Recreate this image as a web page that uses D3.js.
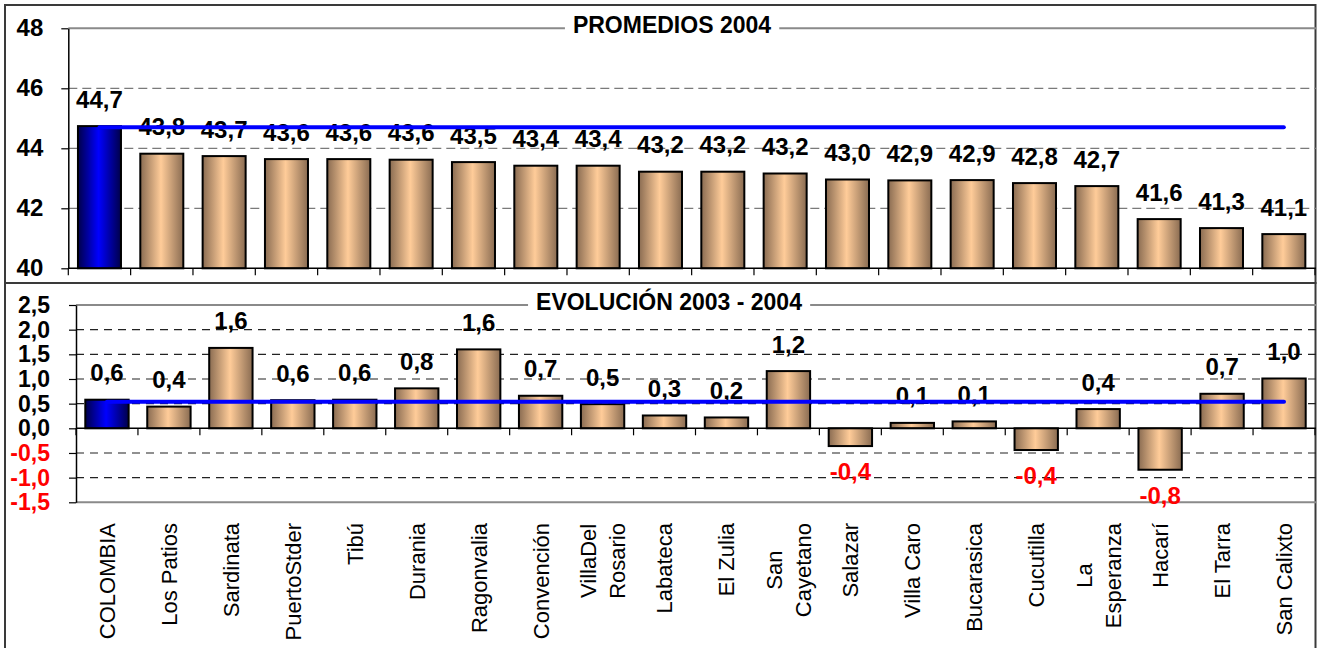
<!DOCTYPE html>
<html>
<head>
<meta charset="utf-8">
<script src="https://cdn.jsdelivr.net/npm/d3@7"></script>
<style>
  body { margin: 0; background: #fff; }
  text { font-family: "Liberation Sans", Arial, sans-serif; }
</style>
</head>
<body>
<div id="chart"></div>
<script>
// data
var categories = ["COLOMBIA", "Los Patios", "Sardinata", "PuertoStder", "Tibú", "Durania",
  "Ragonvalia", "Convención", "VillaDel\nRosario", "Labateca", "El Zulia", "San\nCayetano",
  "Salazar", "Villa Caro", "Bucarasica", "Cucutilla", "La\nEsperanza", "Hacarí", "El Tarra", "San Calixto"];

var promedios2004 = [44.74, 43.82, 43.74, 43.64, 43.64, 43.62, 43.54, 43.42, 43.42, 43.22,
  43.22, 43.16, 42.96, 42.93, 42.94, 42.84, 42.74, 41.64, 41.34, 41.14];

var evolucion = [0.58, 0.44, 1.63, 0.57, 0.58, 0.81, 1.60, 0.66, 0.49, 0.26,
  0.22, 1.16, -0.36, 0.11, 0.14, -0.44, 0.39, -0.84, 0.70, 1.01];

var promedioLine = 44.7;
var evolucionLine = 0.54;

var promTicks = [40, 42, 44, 46, 48];
var evolTicks = [-1.5, -1, -0.5, 0, 0.5, 1, 1.5, 2, 2.5];

var titles = ["PROMEDIOS 2004", "EVOLUCIÓN 2003 - 2004"];

// setup
var W = 1322, H = 648;
var fmt = d3.formatLocale({decimal: ",", thousands: ".", grouping: [3], currency: ["", ""], minus: "-"}).format(".1f");
var fmtInt = d3.format("d");

var svg = d3.select("#chart").append("svg")
  .attr("width", W).attr("height", H)
  .style("display", "block");

var defs = svg.append("defs");
function grad(id, edge, mid) {
  var g = defs.append("linearGradient").attr("id", id)
    .attr("x1", "0%").attr("x2", "100%").attr("y1", "0%").attr("y2", "0%");
  g.append("stop").attr("offset", "0%").attr("stop-color", edge);
  g.append("stop").attr("offset", "48%").attr("stop-color", mid);
  g.append("stop").attr("offset", "100%").attr("stop-color", edge);
}
grad("tan", "#8a6c52", "#ffcc99");
grad("blu", "#00004a", "#0000ff");

// outer frames
svg.append("rect").attr("x", 5).attr("y", 5).attr("width", 1310.5).attr("height", 278)
  .attr("fill", "none").attr("stroke", "#3a3a3a").attr("stroke-width", 2);
svg.append("rect").attr("x", 5).attr("y", 283).attr("width", 1310.5).attr("height", 380)
  .attr("fill", "none").attr("stroke", "#3a3a3a").attr("stroke-width", 2);

function panel(o) {
  var x = d3.scaleBand().domain(categories).range([o.left, o.right])
    .paddingInner(o.pad).paddingOuter(o.pad / 2);
  var y = d3.scaleLinear().domain(o.domain).range([o.bottom, o.top]);
  var g = svg.append("g");
  var step = x.step();

  // gridlines
  o.ticks.forEach(function(t) {
    if (t === o.domain[0] || t === o.base) return;
    var solid = (t === o.domain[1]);
    g.append("line")
      .attr("x1", o.left).attr("x2", o.right + 1)
      .attr("y1", y(t)).attr("y2", y(t))
      .attr("stroke", solid ? "#8a8a8a" : o.dashColor)
      .attr("stroke-width", solid ? 2 : 1.2)
      .attr("stroke-dasharray", solid ? null : o.dash);
  });
  if (o.base !== o.domain[0]) {
    g.append("line")
      .attr("x1", o.left).attr("x2", o.right + 1)
      .attr("y1", y(o.domain[0])).attr("y2", y(o.domain[0]))
      .attr("stroke", "#8a8a8a").attr("stroke-width", 2);
  }

  // bars
  g.selectAll("rect.bar").data(o.values).enter().append("rect")
    .attr("class", "bar")
    .attr("x", function(d, i) { return x(categories[i]); })
    .attr("width", x.bandwidth())
    .attr("y", function(d) { return Math.min(y(d), y(o.base)); })
    .attr("height", function(d) { return Math.abs(y(d) - y(o.base)); })
    .attr("fill", function(d, i) { return i === 0 ? "url(#blu)" : "url(#tan)"; })
    .attr("stroke", "#000").attr("stroke-width", 2);

  // category axis (ticks on band borders)
  g.append("line")
    .attr("x1", o.left).attr("x2", o.right + 1)
    .attr("y1", y(o.base)).attr("y2", y(o.base))
    .attr("stroke", "#000").attr("stroke-width", 1.5);
  d3.range(categories.length + 1).forEach(function(i) {
    var xx = o.left + i * step;
    g.append("line").attr("x1", xx).attr("x2", xx)
      .attr("y1", y(o.base)).attr("y2", y(o.base) + 7)
      .attr("stroke", "#000").attr("stroke-width", 1.2);
  });

  // value axis
  var ax = g.append("g").attr("transform", "translate(" + o.left + ",0)")
    .call(d3.axisLeft(y).tickValues(o.ticks).tickSize(7).tickSizeOuter(0).tickPadding(o.tickPad)
      .tickFormat(o.intLabels ? fmtInt : fmt));
  ax.select(".domain").attr("stroke", "#000").attr("stroke-width", 1.5);
  ax.selectAll(".tick line").attr("stroke", "#000").attr("stroke-width", 1.2);
  ax.selectAll(".tick text")
    .attr("font-family", "'Liberation Sans', Arial, sans-serif")
    .attr("font-size", o.axisFont).attr("font-weight", "bold")
    .attr("fill", function(d) { return d < 0 ? "#ff0000" : "#000"; });

  // data labels
  g.selectAll("text.val").data(o.values).enter().append("text")
    .attr("class", "val")
    .attr("x", function(d, i) { return x(categories[i]) + x.bandwidth() / 2; })
    .attr("y", function(d) { return d >= o.base ? y(d) - 18.5 : y(d) + 34; })
    .attr("text-anchor", "middle")
    .attr("font-size", 24).attr("font-weight", "bold")
    .attr("fill", function(d) { return d < 0 ? "#ff0000" : "#000"; })
    .text(function(d) { return fmt(d); });

  // reference line
  g.append("line")
    .attr("x1", x(categories[0]) + x.bandwidth() / 2)
    .attr("x2", x(categories[categories.length - 1]) + x.bandwidth() / 2)
    .attr("y1", y(o.ref)).attr("y2", y(o.ref))
    .attr("stroke", "#0000ff").attr("stroke-width", 4).attr("stroke-linecap", "round");

  // title over the top border
  var tt = g.append("text")
    .attr("x", o.titleX).attr("y", y(o.domain[1]) + 5)
    .attr("text-anchor", "middle")
    .attr("font-size", 23).attr("font-weight", "bold")
    .text(o.title);
  var bb = tt.node().getBBox();
  g.insert("rect", function() { return tt.node(); })
    .attr("x", bb.x - 8).attr("y", bb.y).attr("width", bb.width + 16).attr("height", bb.height)
    .attr("fill", "#fff");

  return x;
}

panel({
  values: promedios2004, domain: [40, 48], ticks: promTicks, base: 40, ref: promedioLine,
  left: 68.3, right: 1315, top: 28.3, bottom: 268.3, pad: 0.31,
  dash: "9,5", dashColor: "#7a7a7a", tickPad: 18, axisFont: 24, intLabels: true,
  title: titles[0], titleX: 672
});

var xb = panel({
  values: evolucion, domain: [-1.5, 2.5], ticks: evolTicks, base: 0, ref: evolucionLine,
  left: 76, right: 1315, top: 305, bottom: 502.3, pad: 0.3,
  dash: "8,6", dashColor: "#222", tickPad: 19, axisFont: 23, intLabels: false,
  title: titles[1], titleX: 669
});

// category labels, rotated, top aligned, lines centred in the block
var labTop = 523, lineGap = 29;
categories.forEach(function(c) {
  var lines = c.split("\n");
  var cx = xb(c) + xb.bandwidth() / 2;
  var lg = svg.append("g").attr("transform", "translate(" + cx + "," + labTop + ") rotate(-90)");
  var ts = lines.map(function(l, i) {
    return lg.append("text")
      .attr("font-size", 22)
      .attr("y", (i - (lines.length - 1) / 2) * lineGap)
      .attr("dy", "0.36em")
      .text(l);
  });
  var maxW = d3.max(ts, function(t) { return t.node().getComputedTextLength(); });
  ts.forEach(function(t) { t.attr("text-anchor", "middle").attr("x", -maxW / 2); });
});
</script>
</body>
</html>
